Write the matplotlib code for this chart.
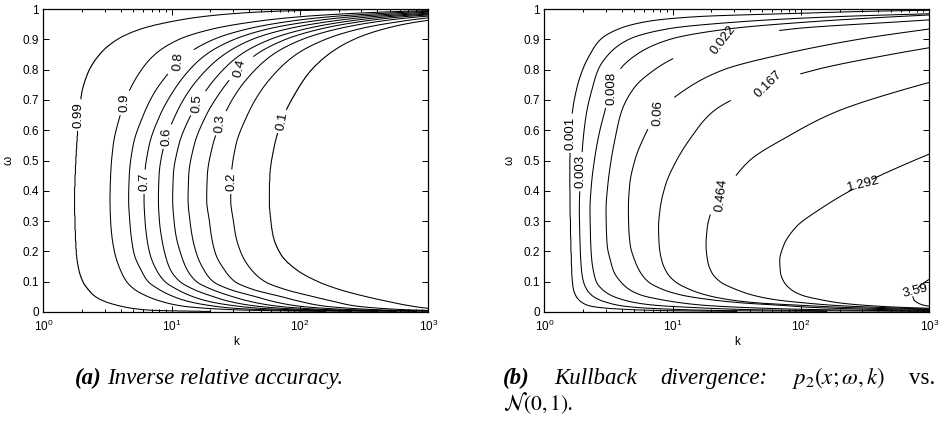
import numpy as np
import matplotlib
matplotlib.use("Agg")
import matplotlib.pyplot as plt
from matplotlib.ticker import LogLocator, FixedLocator, NullFormatter

plt.rcParams["font.family"] = ["Liberation Sans", "DejaVu Sans"]
plt.rcParams["mathtext.fontset"] = "custom"
plt.rcParams["mathtext.rm"] = "Liberation Sans"
plt.rcParams["mathtext.it"] = "Liberation Sans:italic"

# ---------------- data ----------------
# (a) inverse relative accuracy: log10(k) position of each contour at each omega row
OMEGA_A = [0.002, 0.006, 0.012, 0.02, 0.035, 0.05, 0.075, 0.1, 0.14, 0.19, 0.25, 0.3, 0.37,
           0.45, 0.55, 0.65, 0.72, 0.79, 0.85, 0.9, 0.935, 0.96, 0.975, 0.985, 0.992, 0.998, 0.9995]
LEVELS_A = [0.99, 0.9, 0.8, 0.7, 0.6, 0.5, 0.4, 0.3, 0.2, 0.1]
LABELS_A = ["0.99", "0.9", "0.8", "0.7", "0.6", "0.5", "0.4", "0.3", "0.2", "0.1"]
LOGK_A_099 = [1.3, 0.85, 0.7, 0.6, 0.48, 0.41, 0.35, 0.31, 0.278, 0.26, 0.252, 0.248, 0.245,
              0.25, 0.262, 0.28, 0.3, 0.35, 0.44, 0.58, 0.77, 1.02, 1.25, 1.5, 1.8, 2.5, 3.2]
LOGK_A_09 = [2.2, 1.6, 1.28, 1.08, 0.92, 0.82, 0.71, 0.65, 0.6, 0.56, 0.535, 0.525, 0.52,
             0.525, 0.545, 0.6, 0.66, 0.75, 0.87, 1.06, 1.33, 1.68, 2.02, 2.4, 2.8, 3.5, 4.3]
LOGK_A_08 = [2.4, 1.85, 1.5, 1.32, 1.13, 1.02, 0.9, 0.818, 0.76, 0.709, 0.685, 0.674, 0.665,
             0.67, 0.70, 0.78, 0.86, 0.98, 1.12, 1.33, 1.6, 1.93, 2.25, 2.62, 3.0, 3.7, 4.4]
LOGK_A_07 = [2.6, 2.05, 1.7, 1.5, 1.29, 1.17, 1.04, 0.949, 0.88, 0.832, 0.805, 0.793, 0.785,
             0.79, 0.825, 0.91, 1.0, 1.12, 1.27, 1.49, 1.76, 2.1, 2.42, 2.8, 3.15, 3.85, 4.5]
LOGK_A_06 = [2.75, 2.2, 1.87, 1.65, 1.45, 1.33, 1.17, 1.066, 0.99, 0.949, 0.92, 0.905, 0.897,
             0.902, 0.94, 1.03, 1.12, 1.25, 1.41, 1.63, 1.91, 2.25, 2.57, 2.96, 3.3, 4.0, 4.6]
LOGK_A_05 = [2.9, 2.35, 2.03, 1.81, 1.61, 1.48, 1.31, 1.195, 1.12, 1.073, 1.035, 1.019, 1.008,
             1.013, 1.055, 1.15, 1.25, 1.38, 1.54, 1.77, 2.05, 2.38, 2.7, 3.08, 3.45, 4.1, 4.7]
LOGK_A_04 = [3.05, 2.52, 2.2, 1.98, 1.79, 1.66, 1.45, 1.325, 1.25, 1.196, 1.16, 1.143, 1.128,
             1.133, 1.175, 1.27, 1.37, 1.5, 1.66, 1.89, 2.17, 2.5, 2.82, 3.2, 3.55, 4.2, 4.8]
LOGK_A_03 = [3.2, 2.7, 2.4, 2.18, 2.0, 1.86, 1.63, 1.494, 1.41, 1.344, 1.31, 1.294, 1.273,
             1.278, 1.32, 1.41, 1.5, 1.63, 1.79, 2.02, 2.3, 2.63, 2.95, 3.3, 3.65, 4.3, 4.9]
LOGK_A_02 = [3.4, 2.92, 2.63, 2.43, 2.26, 2.11, 1.88, 1.728, 1.62, 1.546, 1.5, 1.481, 1.46,
             1.465, 1.5, 1.59, 1.68, 1.81, 1.97, 2.2, 2.47, 2.8, 3.1, 3.45, 3.8, 4.5, 5.1]
LOGK_A_01 = [3.8, 3.3, 3.0, 2.86, 2.68, 2.52, 2.3, 2.14, 1.97, 1.85, 1.79, 1.772, 1.759,
             1.764, 1.80, 1.875, 1.96, 2.07, 2.22, 2.42, 2.66, 2.95, 3.3, 3.65, 4.05, 4.8, 5.5]

# (b) Kullback divergence
OMEGA_B = [0.002, 0.005, 0.009, 0.015, 0.022, 0.03, 0.04, 0.055, 0.075, 0.1, 0.13, 0.17, 0.22,
           0.28, 0.34, 0.42, 0.5, 0.58, 0.66, 0.74, 0.8, 0.85, 0.9, 0.935, 0.96, 0.975, 0.986,
           0.993, 0.998]
LEVELS_B = [0.001, 0.003, 0.008, 0.022, 0.06, 0.167, 0.464, 1.292, 3.59]
LABELS_B = ["0.001", "0.003", "0.008", "0.022", "0.06", "0.167", "0.464", "1.292", "3.59"]
LOGK_B_0001 = [1.5, 0.9, 0.62, 0.43, 0.34, 0.3, 0.27, 0.245, 0.228, 0.22, 0.215, 0.212, 0.208,
               0.205, 0.202, 0.2, 0.2, 0.205, 0.22, 0.255, 0.3, 0.357, 0.44, 0.585, 0.82, 1.2,
               2.0, 2.6, 3.4]
LOGK_B_0003 = [2.2, 1.35, 1.0, 0.72, 0.58, 0.5, 0.43, 0.37, 0.33, 0.305, 0.292, 0.284, 0.279,
               0.275, 0.273, 0.278, 0.29, 0.305, 0.33, 0.375, 0.42, 0.5, 0.66, 0.97, 1.6, 2.3,
               3.15, 3.7, 4.3]
LOGK_B_0008 = [3.0, 2.0, 1.5, 1.15, 0.87, 0.72, 0.616, 0.52, 0.45, 0.405, 0.385, 0.37, 0.362,
               0.358, 0.356, 0.367, 0.39, 0.423, 0.47, 0.525, 0.59, 0.72, 0.98, 1.45, 2.15, 2.75,
               3.3, 3.8, 4.4]
LOGK_B_0022 = [3.5, 2.6, 2.0, 1.55, 1.25, 1.07, 0.92, 0.76, 0.66, 0.595, 0.545, 0.515, 0.49,
               0.483, 0.481, 0.495, 0.52, 0.555, 0.6, 0.7, 0.86, 1.07, 1.42, 1.95, 2.85, 3.4,
               3.9, 4.3, 4.8]
LOGK_B_006 = [4.0, 3.1, 2.55, 2.1, 1.85, 1.55, 1.31, 1.08, 0.92, 0.81, 0.75, 0.705, 0.67,
              0.658, 0.655, 0.665, 0.705, 0.78, 0.89, 1.12, 1.4, 1.85, 2.45, 3.02, 3.5, 3.9,
              4.3, 4.6, 5.0]
LOGK_B_0167 = [4.4, 3.6, 2.9, 2.35, 2.0, 1.66, 1.45, 1.27, 1.13, 1.02, 0.955, 0.915, 0.895,
               0.89, 0.902, 0.945, 1.03, 1.15, 1.31, 1.67, 2.12, 2.7, 3.4, 3.9, 4.3, 4.6, 4.9,
               5.2, 5.5]
LOGK_B_0464 = [5.0, 3.9, 3.1, 2.62, 2.26, 2.03, 1.81, 1.63, 1.49, 1.37, 1.305, 1.272, 1.26,
               1.27, 1.31, 1.44, 1.6, 1.9, 2.27, 2.85, 3.4, 3.9, 4.4, 4.7, 5.0, 5.2, 5.4, 5.6, 5.8]
LOGK_B_1292 = [5.5, 4.2, 3.35, 2.8, 2.5, 2.3, 2.16, 2.01, 1.92, 1.866, 1.84, 1.834, 1.865,
               1.96, 2.15, 2.47, 2.88, 3.35, 3.8, 4.3, 4.7, 5.0, 5.3, 5.5, 5.7, 5.8, 5.9, 6.0, 6.1]
LOGK_B_359 = [6.0, 4.6, 3.6, 3.12, 2.96, 2.91, 2.88, 2.87, 2.9, 2.97, 3.1, 3.3, 3.55, 3.8, 4.1,
              4.4, 4.7, 5.0, 5.2, 5.4, 5.6, 5.8, 6.0, 6.1, 6.2, 6.3, 6.4, 6.5, 6.6]

X_TICKS = [1, 10, 100, 1000]
Y_TICKS = [0, 0.1, 0.2, 0.3, 0.4, 0.5, 0.6, 0.7, 0.8, 0.9, 1.0]
Y_TICKLABELS = ["0", "0.1", "0.2", "0.3", "0.4", "0.5", "0.6", "0.7", "0.8", "0.9", "1"]

# label anchor positions (k, omega)
LABEL_POS_A = [(1.99, 0.65), (4.47, 0.69), (10.3, 0.826), (6.28, 0.43), (9.42, 0.579),
               (16.1, 0.689), (35.2, 0.804), (24.5, 0.623), (29.7, 0.43), (73.5, 0.628)]
LABEL_POS_B = [(10 ** 0.22, 0.59), (10 ** 0.278, 0.463), (10 ** 0.525, 0.738), (10 ** 1.5, 0.892),
               (10 ** 0.884, 0.656), (10 ** 1.785, 0.744), (10 ** 1.395, 0.386),
               (10 ** 2.486, 0.425), (10 ** 2.89, 0.078)]


# ---------------- helpers ----------------
def pchip(x, y, xn):
    x = np.asarray(x, float)
    y = np.asarray(y, float)
    h = np.diff(x)
    d = np.diff(y) / h
    n = len(x)
    m = np.zeros(n)
    for i in range(1, n - 1):
        if d[i - 1] * d[i] > 0:
            w1 = 2 * h[i] + h[i - 1]
            w2 = h[i] + 2 * h[i - 1]
            m[i] = (w1 + w2) / (w1 / d[i - 1] + w2 / d[i])
    m[0] = d[0]
    m[-1] = d[-1]
    xn = np.clip(xn, x[0], x[-1])
    idx = np.clip(np.searchsorted(x, xn) - 1, 0, n - 2)
    t = (xn - x[idx]) / h[idx]
    h00 = 2 * t ** 3 - 3 * t ** 2 + 1
    h10 = t ** 3 - 2 * t ** 2 + t
    h01 = -2 * t ** 3 + 3 * t ** 2
    h11 = t ** 3 - t ** 2
    return (h00 * y[idx] + h10 * h[idx] * m[idx] + h01 * y[idx + 1] + h11 * h[idx] * m[idx + 1])


def build_field(omega_rows, table, values, lo_val, hi_val, w_fine, lk_fine):
    P = np.array([pchip(omega_rows, row, w_fine) for row in table])
    for i in range(1, P.shape[0]):
        P[i] = np.maximum(P[i], P[i - 1] + 1e-4)
    Z = np.empty((len(w_fine), len(lk_fine)))
    fp = np.concatenate([[lo_val], values, [hi_val]])
    for j in range(len(w_fine)):
        xp = np.concatenate([[-3.0], P[:, j], [15.0]])
        Z[j] = np.interp(lk_fine, xp, fp)
    return Z


def style_axes(ax):
    ax.set_xscale("log")
    ax.set_xlim(1, 1000)
    ax.set_ylim(0, 1)
    ax.xaxis.set_major_locator(FixedLocator(X_TICKS))
    ax.xaxis.set_minor_locator(LogLocator(base=10, subs=np.arange(2, 10)))
    ax.xaxis.set_minor_formatter(NullFormatter())
    ax.yaxis.set_major_locator(FixedLocator(Y_TICKS))
    ax.set_yticklabels(Y_TICKLABELS)
    ax.tick_params(which="both", direction="in", top=True, right=True, labelsize=8.5,
                   width=0.7)
    ax.tick_params(axis="x", pad=5)
    ax.tick_params(axis="y", pad=3)
    ax.tick_params(which="major", length=4)
    ax.tick_params(which="minor", length=2)
    for s in ax.spines.values():
        s.set_linewidth(0.9)
    ax.set_xlabel("k", fontsize=8.5)
    ax.set_ylabel("ω", fontsize=8.5)
    ax.xaxis.set_label_coords(0.5, -0.08)
    ax.yaxis.set_label_coords(-0.075, 0.5)


def draw_contours(ax, Z, levels, labels, positions):
    for lev, lab, pos in zip(levels, labels, positions):
        cs = ax.contour(K, W, Z, levels=[lev], colors="k", linewidths=0.75,
                        linestyles="solid")
        cs.clabel(manual=[pos], inline=True, fmt={cs.levels[0]: lab}, fontsize=9.5,
                  inline_spacing=3)


W = np.linspace(0.0, 1.0, 1500)
LK = np.linspace(0.0, 3.0, 900)
K = 10 ** LK

fig = plt.figure(figsize=(9.46, 4.22), dpi=100)
axA = fig.add_axes([43.3 / 946, 1 - 312 / 422, 385 / 946, 303 / 422])
axB = fig.add_axes([544.3 / 946, 1 - 312 / 422, 385 / 946, 303 / 422])

# ---- panel (a)
tableA = [LOGK_A_099, LOGK_A_09, LOGK_A_08, LOGK_A_07, LOGK_A_06,
          LOGK_A_05, LOGK_A_04, LOGK_A_03, LOGK_A_02, LOGK_A_01]
ZA = build_field(OMEGA_A, tableA, LEVELS_A, 1.0, 0.0, W, LK)
draw_contours(axA, ZA, LEVELS_A, LABELS_A, LABEL_POS_A)
style_axes(axA)

# ---- panel (b)
tableB = [LOGK_B_0001, LOGK_B_0003, LOGK_B_0008, LOGK_B_0022, LOGK_B_006,
          LOGK_B_0167, LOGK_B_0464, LOGK_B_1292, LOGK_B_359]
logvals = np.log(LEVELS_B)
ZB = build_field(OMEGA_B, tableB, logvals, np.log(1e-5), np.log(50.0), W, LK)
draw_contours(axB, ZB, list(logvals), LABELS_B, LABEL_POS_B)
style_axes(axB)

# ---- captions
renderer = fig.canvas.get_renderer()
FW, FH = 946.0, 422.0
cap_kw = dict(family="Liberation Serif", style="italic", size=16.5, va="baseline",
              math_fontfamily="stix")


def put(x, y, s, **kw):
    kk = dict(cap_kw)
    kk.update(kw)
    t = fig.text(x / FW, 1 - y / FH, s, **kk)
    bb = t.get_window_extent(renderer)
    return t, bb.width


_, wa = put(75, 384, "(a)", weight="bold")
put(75 + wa + 5, 384, "Inverse relative accuracy.")

words = ["(b)", "Kullback", "divergence:", r"$p_2(x;\omega,k)$", "vs."]
styles = [{"weight": "bold"}, {}, {}, {}, {"style": "normal"}]
widths = []
texts = []
for wd, kw in zip(words, styles):
    t, w = put(0, 384, wd, **kw)
    texts.append(t)
    widths.append(w)
x0, x1 = 503.0, 935.0
gap = (x1 - x0 - sum(widths)) / (len(words) - 1)
xc = x0
for t, w in zip(texts, widths):
    t.set_x(xc / FW)
    xc += w + gap
put(503, 410, r"$\mathcal{N}(0,1)$.", size=15.5)

fig.savefig("out.png", dpi=100)
